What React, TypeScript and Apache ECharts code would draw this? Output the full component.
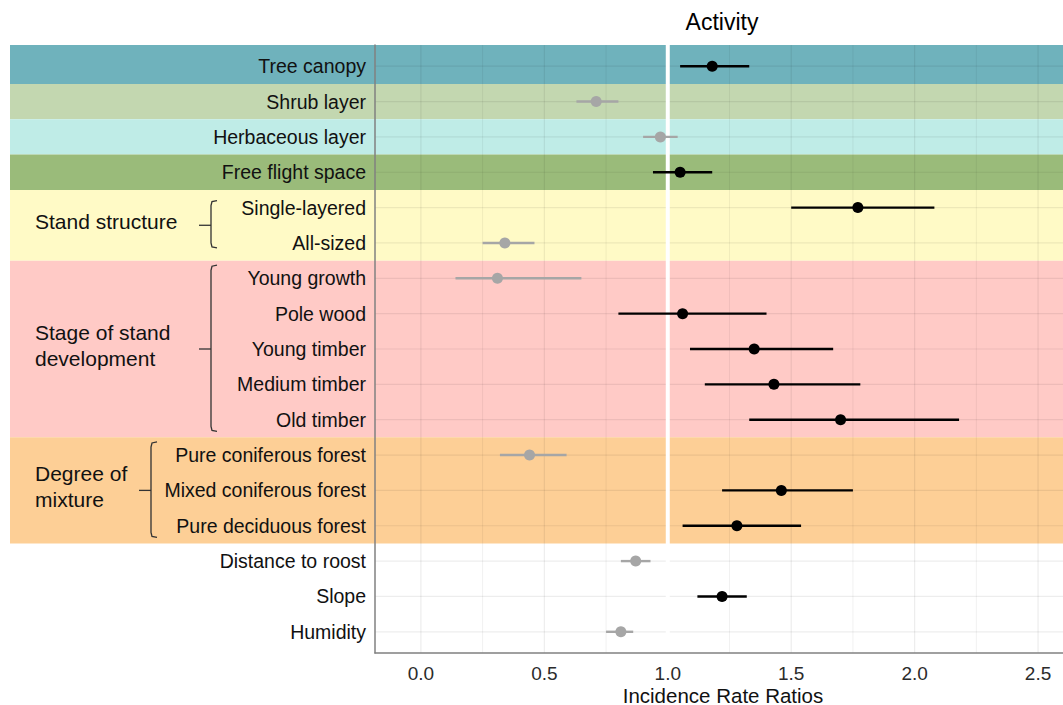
import React, { useEffect, useRef } from 'react';
import * as echarts from 'echarts';

// ---------- data ----------
const categories = [
  'Tree canopy',
  'Shrub layer',
  'Herbaceous layer',
  'Free flight space',
  'Single-layered',
  'All-sized',
  'Young growth',
  'Pole wood',
  'Young timber',
  'Medium timber',
  'Old timber',
  'Pure coniferous forest',
  'Mixed coniferous forest',
  'Pure deciduous forest',
  'Distance to roost',
  'Slope',
  'Humidity',
];
const estimates = [1.18, 0.71, 0.97, 1.05, 1.77, 0.34, 0.31, 1.06, 1.35, 1.43, 1.70, 0.44, 1.46, 1.28, 0.87, 1.22, 0.81];
const lower = [1.05, 0.63, 0.90, 0.94, 1.50, 0.25, 0.14, 0.80, 1.09, 1.15, 1.33, 0.32, 1.22, 1.06, 0.81, 1.12, 0.75];
const upper = [1.33, 0.80, 1.04, 1.18, 2.08, 0.46, 0.65, 1.40, 1.67, 1.78, 2.18, 0.59, 1.75, 1.54, 0.93, 1.32, 0.86];
const significant = [true, false, false, true, true, false, false, true, true, true, true, false, true, true, false, true, false];

const xTicks = [0, 0.5, 1, 1.5, 2, 2.5];
const xMinorTicks = [0.25, 0.75, 1.25, 1.75, 2.25];
const referenceValue = [1];

const bandFirstRow = [0, 1, 2, 3, 4, 6, 11];
const bandLastRow = [0, 1, 2, 3, 5, 10, 13];

const groupNames = ['Stand structure', 'Stage of stand\ndevelopment', 'Degree of\nmixture'];
const groupFirstRow = [4, 6, 11];
const groupLastRow = [5, 10, 13];

// ---------- styles / layout ----------
const bandColors = ['#6FB2BC', '#C3D7B0', '#BFECE7', '#9ABB7A', '#FFFAC6', '#FFCAC6', '#FDCF96'];
const bracketX = [211, 211, 151];
const bracketPadTop = [0.2, 0.37, 0.37];
const bracketPadBottom = [0.14, 0.33, 0.33];
const FONT = "'Liberation Sans', Arial, sans-serif";
const GRID_LEFT = 375;
const GRID_TOP = 45;
const GRID_HEIGHT = 608;
const BAND_LEFT = 10;
const GROUP_TEXT_X = 35;

export default function App() {
  const ref = useRef<HTMLDivElement>(null);

  useEffect(() => {
    const chart = echarts.init(ref.current as HTMLDivElement, null, { renderer: 'svg' });
    const rows = categories.map((_, i) => i);

    const option: any = {
      animation: false,
      textStyle: { fontFamily: FONT },
      grid: {
        left: GRID_LEFT,
        right: 0,
        top: GRID_TOP,
        height: GRID_HEIGHT,
        containLabel: false,
        outerBoundsMode: 'none',
      },
      graphic: [
        {
          type: 'text',
          x: 722,
          y: 22,
          style: {
            text: 'Activity',
            fill: '#000',
            fontSize: 23,
            fontFamily: FONT,
            align: 'center',
            verticalAlign: 'middle',
          },
        },
      ],
      xAxis: {
        type: 'value',
        min: -0.186,
        max: 2.601,
        z: 3,
        axisLine: { show: true, onZero: false, lineStyle: { color: '#808080', width: 1.5 } },
        axisTick: { show: false },
        splitLine: { show: false },
        axisLabel: {
          customValues: xTicks,
          formatter: (v: number) => v.toFixed(1),
          fontSize: 19,
          color: '#2b2b2b',
          margin: 11,
          fontFamily: FONT,
        },
        name: 'Incidence Rate Ratios',
        nameLocation: 'middle',
        nameGap: 42,
        nameMoveOverlap: false,
        nameTextStyle: {
          fontSize: 20.5,
          color: '#111',
          fontFamily: FONT,
          verticalAlign: 'middle',
          padding: [0, 0, 0, 8],
        },
      },
      yAxis: {
        type: 'value',
        inverse: true,
        min: -0.6,
        max: 16.6,
        z: 3,
        axisLine: { show: true, onZero: false, lineStyle: { color: '#808080', width: 1.5 } },
        axisTick: { show: false },
        splitLine: { show: false },
        axisLabel: {
          customValues: rows,
          formatter: (v: number) => categories[Math.round(v)] ?? '',
          fontSize: 19.5,
          color: '#111',
          margin: 9,
          fontFamily: FONT,
        },
      },
      series: [
        // coloured bands
        {
          type: 'custom',
          z: 1,
          silent: true,
          clip: false,
          encode: { x: 0, y: 1 },
          data: bandFirstRow.map((f, i) => [0, f, bandLastRow[i], i]),
          renderItem: (params: any, api: any) => {
            const cs = params.coordSys;
            const first = api.value(1);
            const last = api.value(2);
            const idx = api.value(3);
            let y0 = first === 0 ? cs.y : api.coord([0, first - 0.5])[1];
            let y1 = api.coord([0, last + 0.5])[1];
            y0 = Math.max(y0, cs.y);
            y1 = Math.min(y1, cs.y + cs.height);
            return {
              type: 'rect',
              shape: { x: BAND_LEFT, y: y0, width: cs.x + cs.width - BAND_LEFT, height: y1 - y0 },
              style: { fill: bandColors[idx] },
            };
          },
        },
        // horizontal grid lines
        {
          type: 'custom',
          z: 2,
          silent: true,
          encode: { x: 0, y: 1 },
          data: rows.map((r) => [0, r]),
          renderItem: (params: any, api: any) => {
            const cs = params.coordSys;
            const y = api.coord([0, api.value(1)])[1];
            return {
              type: 'line',
              shape: { x1: cs.x, y1: y, x2: cs.x + cs.width, y2: y },
              style: { stroke: 'rgba(0,0,0,0.07)', lineWidth: 1.2 },
            };
          },
        },
        // vertical major grid lines
        {
          type: 'custom',
          z: 2,
          silent: true,
          encode: { x: 0, y: 1 },
          data: xTicks.map((v) => [v, 0]),
          renderItem: (params: any, api: any) => {
            const cs = params.coordSys;
            const x = api.coord([api.value(0), 0])[0];
            return {
              type: 'line',
              shape: { x1: x, y1: cs.y, x2: x, y2: cs.y + cs.height },
              style: { stroke: 'rgba(0,0,0,0.075)', lineWidth: 1.2 },
            };
          },
        },
        // vertical minor grid lines
        {
          type: 'custom',
          z: 2,
          silent: true,
          encode: { x: 0, y: 1 },
          data: xMinorTicks.map((v) => [v, 0]),
          renderItem: (params: any, api: any) => {
            const cs = params.coordSys;
            const x = api.coord([api.value(0), 0])[0];
            return {
              type: 'line',
              shape: { x1: x, y1: cs.y, x2: x, y2: cs.y + cs.height },
              style: { stroke: 'rgba(0,0,0,0.06)', lineWidth: 1 },
            };
          },
        },
        // reference line at 1
        {
          type: 'custom',
          z: 2,
          silent: true,
          encode: { x: 0, y: 1 },
          data: referenceValue.map((v) => [v, 0]),
          renderItem: (params: any, api: any) => {
            const cs = params.coordSys;
            const x = api.coord([api.value(0), 0])[0];
            return {
              type: 'rect',
              shape: { x: x - 2, y: cs.y, width: 4, height: cs.height },
              style: { fill: '#ffffff' },
            };
          },
        },
        // group labels + brackets
        {
          type: 'custom',
          z: 6,
          silent: true,
          clip: false,
          encode: { x: 0, y: 1 },
          data: groupFirstRow.map((f, i) => [0, f, groupLastRow[i], i]),
          renderItem: (params: any, api: any) => {
            const first = api.value(1);
            const last = api.value(2);
            const i = api.value(3);
            const top = api.coord([0, first - bracketPadTop[i]])[1];
            const bottom = api.coord([0, last + bracketPadBottom[i]])[1];
            const mid = api.coord([0, (first + last) / 2])[1];
            const bx = bracketX[i];
            return {
              type: 'group',
              children: [
                {
                  type: 'polyline',
                  shape: { points: [[bx + 6, top], [bx + 1, top + 1], [bx, top + 5], [bx, bottom - 5], [bx + 1, bottom - 1], [bx + 6, bottom]] },
                  style: { stroke: '#333', lineWidth: 1.3, fill: null },
                },
                {
                  type: 'line',
                  shape: { x1: bx - 12, y1: mid, x2: bx, y2: mid },
                  style: { stroke: '#333', lineWidth: 1.3 },
                },
                {
                  type: 'text',
                  x: GROUP_TEXT_X,
                  y: mid - 4,
                  style: {
                    text: groupNames[i],
                    fill: '#111',
                    fontSize: 21,
                    fontFamily: FONT,
                    lineHeight: 26,
                    align: 'left',
                    verticalAlign: 'middle',
                  },
                },
              ],
            };
          },
        },
        // error bars
        {
          type: 'custom',
          z: 4,
          silent: true,
          encode: { x: [0, 1], y: 2 },
          data: rows.map((i) => [lower[i], upper[i], i, significant[i] ? 1 : 0]),
          renderItem: (params: any, api: any) => {
            const p0 = api.coord([api.value(0), api.value(2)]);
            const p1 = api.coord([api.value(1), api.value(2)]);
            return {
              type: 'line',
              shape: { x1: p0[0], y1: p0[1], x2: p1[0], y2: p1[1] },
              style: { stroke: api.value(3) ? '#000000' : '#A6A6A6', lineWidth: 2.4 },
            };
          },
        },
        // point estimates
        {
          type: 'scatter',
          z: 5,
          silent: true,
          symbol: 'circle',
          symbolSize: 11,
          itemStyle: { opacity: 1 },
          data: rows.map((i) => ({
            value: [estimates[i], i],
            itemStyle: { color: significant[i] ? '#000000' : '#A6A6A6', opacity: 1 },
          })),
        },
      ],
    };

    chart.setOption(option);
    return () => chart.dispose();
  }, []);

  return (
    <div
      ref={ref}
      style={{ position: 'fixed', left: 0, top: 0, width: 1063, height: 705, background: '#ffffff' }}
    />
  );
}
